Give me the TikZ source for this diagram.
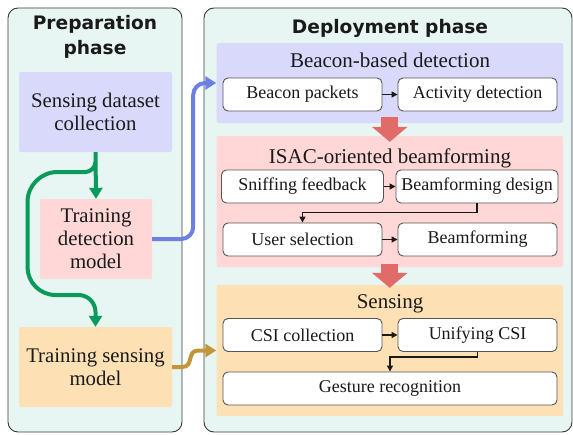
\documentclass[tikz,border=0pt]{standalone}
\usepackage{fontspec}
\setmainfont{Liberation Serif}
\newfontfamily\bodyfont{Liberation Serif}
\newfontfamily\headfont{DejaVu Sans}
\usetikzlibrary{arrows.meta}

\definecolor{mint}{HTML}{E7F6F2}
\definecolor{panelline}{HTML}{3A3A3A}
\definecolor{bluefill}{HTML}{D8D9FB}
\definecolor{pinkfill}{HTML}{FFD7D7}
\definecolor{orangefill}{HTML}{FDE1B4}
\definecolor{greenflow}{HTML}{0A9B5C}
\definecolor{blueflow}{HTML}{6C7FE2}
\definecolor{goldflow}{HTML}{C39539}
\definecolor{bigred}{HTML}{E06B69}
\definecolor{boxline}{HTML}{555555}
\definecolor{ink}{HTML}{1A1A1A}

\tikzset{
  panel/.style={draw=panelline, line width=0.9pt, rounded corners=10pt, fill=mint, inner sep=0pt},
  phasetitle/.style={font=\headfont\bfseries\fontsize{18.6}{25}\selectfont, text=ink, align=center, inner sep=0pt},
  prepbox/.style={rounded corners=2pt, inner sep=0pt, align=center, text=ink,
    font=\bodyfont\fontsize{20.8}{23}\selectfont},
  stage/.style={rounded corners=2pt, inner sep=0pt, minimum width=346.5pt},
  stagetitle/.style={font=\bodyfont\fontsize{21}{23}\selectfont, text=ink, inner sep=0pt, anchor=base},
  stepbox/.style={draw=boxline, fill=white, rounded corners=5pt, line width=0.9pt,
    minimum width=159pt, minimum height=33pt, inner sep=0pt, text=ink,
    font=\bodyfont\fontsize{18}{20}\selectfont},
  flow/.style={-{Triangle[length=6pt,width=6pt]}, line width=1.3pt, draw=ink},
  thickflow/.style={line width=4pt, -{Triangle[length=11pt,width=13pt]}},
  bigdown/.style={line width=17pt, draw=bigred, -{Triangle[length=15pt,width=35pt]}},
}

\begin{document}
\begin{tikzpicture}[x=1pt,y=-1pt]
\useasboundingbox (0,0) rectangle (573,434);

% two phase panels
\node[panel, minimum width=174pt, minimum height=424pt] (prep) at (95,220) {};
\node[panel, minimum width=368pt, minimum height=424pt] (deploy) at (388,220) {};
\node[phasetitle] (preptitle) at (95,37) {Preparation\\phase};
\node[phasetitle, anchor=base] (deploytitle) at (390,33) {Deployment phase};

% preparation steps
\node[prepbox, fill=bluefill, minimum width=153pt, minimum height=80pt] (collect) at (95.5,112) {Sensing dataset\\collection};
\node[prepbox, fill=pinkfill, minimum width=112pt, minimum height=80pt] (traindet) at (96,239) {Training\\detection\\model};
\node[prepbox, fill=orangefill, minimum width=153pt, minimum height=80pt] (trainsens) at (95.5,367) {Training sensing\\model};

% deployment stages
\node[stage, fill=bluefill, minimum height=80pt] (bb) at (389.75,83) {};
\node[stage, fill=pinkfill, minimum height=131pt] (isac) at (389.75,201.5) {};
\node[stage, fill=orangefill, minimum height=131pt] (sens) at (389.75,350.5) {};
\node[stagetitle] (bbtitle) at (390,67) {Beacon-based detection};
\node[stagetitle] (isactitle) at (390,163) {ISAC-oriented beamforming};
\node[stagetitle] (senstitle) at (390,308) {Sensing};

% steps inside the stages
\node[stepbox] (bp) at (302.5,94.5) {Beacon packets};
\node[stepbox] (ad) at (477.5,94.5) {Activity detection};
\node[stepbox, minimum width=162pt] (sf) at (302.5,186.5) {Sniffing feedback};
\node[stepbox, minimum width=162pt] (bd) at (477,186.5) {Beamforming design};
\node[stepbox] (us) at (302.5,239.5) {User selection};
\node[stepbox] (bf) at (477.5,239.5) {Beamforming};
\node[stepbox] (csi) at (302.5,335) {CSI collection};
\node[stepbox] (uc) at (477.5,335) {Unifying CSI};
\node[stepbox, minimum width=334pt] (gr) at (390,388.5) {Gesture recognition};

\draw[flow] (bp) -- (ad);
\draw[flow] (sf.east) -- (bd.west);
\draw[flow] (bd.south) -- ++(0,9) -| (us.north);
\draw[flow] (us) -- (bf);
\draw[flow] (csi) -- (uc);
\draw[flow] (uc.south) -- ++(0,5) -| (gr.north);

% stage transitions
\draw[bigdown] ([yshift=6pt]bb.south) -- ([yshift=-6pt]isac.north);
\draw[bigdown] ([yshift=3pt]isac.south) -- ([yshift=-3pt]sens.north);

% preparation flow: straight to detection, looping branch to sensing
\coordinate (split) at ([yshift=-10pt]collect.south);
\draw[thickflow, draw=greenflow] (collect.south) -- (traindet.north);
\draw[thickflow, draw=greenflow]
  (split) .. controls (95.5,167.5) and (90,172) .. (85.5,172) -- (57.5,172)
  .. controls (41,172) and (27.5,185.5) .. (27.5,202) -- (27.5,267)
  .. controls (27.5,282.4) and (40,295) .. (55.5,295) -- (78.5,295)
  .. controls (87.9,295) and (95.5,302.6) .. (95.5,312) -- (trainsens.north);

% models handed over to deployment
\draw[thickflow, draw=blueflow, rounded corners=12pt] (traindet.east) -- ++(41,0) |- (bb.west);
\draw[thickflow, draw=goldflow] (trainsens.east) -- ++(10,0)
  .. controls +(12,0) and +(-12,0) .. ([xshift=-18pt]sens.west) -- (sens.west);
\end{tikzpicture}
\end{document}
